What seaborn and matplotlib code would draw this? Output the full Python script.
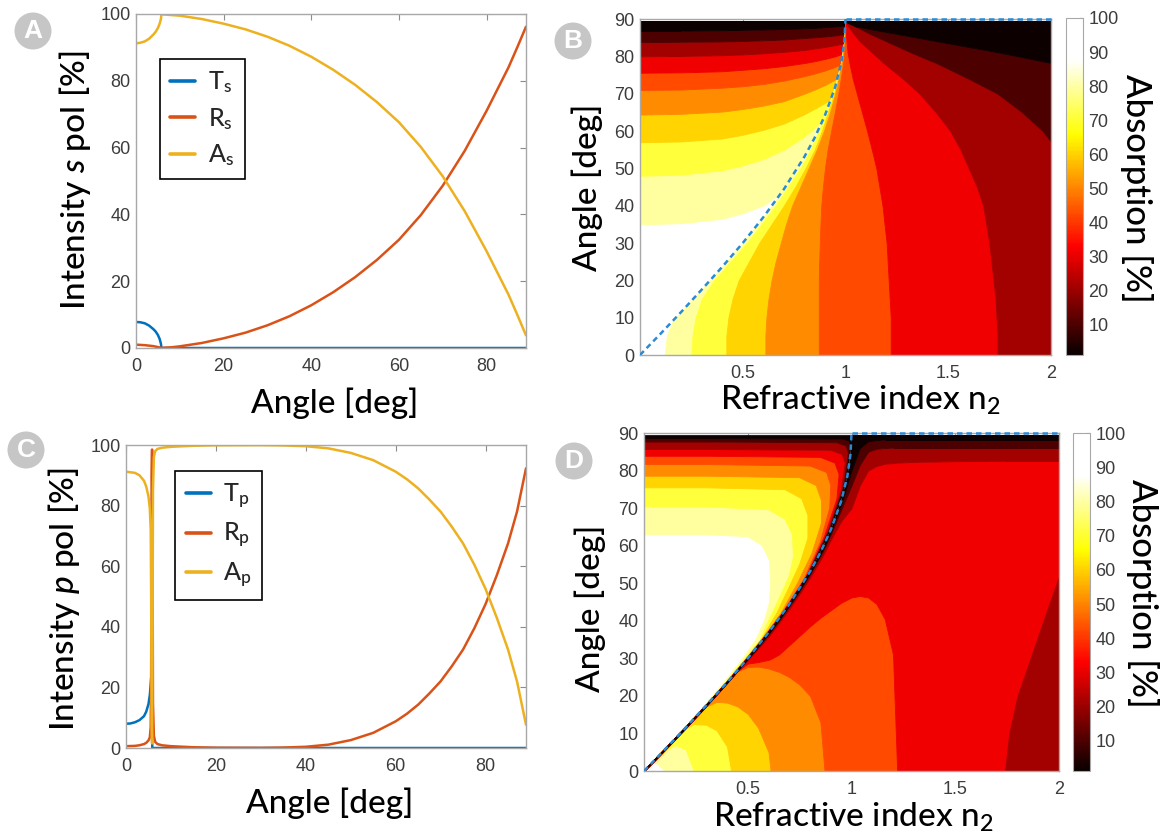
import numpy as np
import pandas as pd
import matplotlib
matplotlib.use("Agg")
import matplotlib.pyplot as plt
import seaborn as sns
from matplotlib.patches import Polygon, Ellipse
from matplotlib.lines import Line2D
from matplotlib.colors import ListedColormap, Normalize
from matplotlib.cm import ScalarMappable

# ---------------- panel A : s polarisation ----------------
ang_Ts = [0, 1, 2, 3, 4, 4.5, 5, 5.4, 5.7, 5.8, 89]
Ts = [7.8, 7.7, 7.4, 6.7, 5.6, 4.9, 3.9, 2.7, 1.2, 0, 0]
ang_Rs = [0, 2, 4, 5.8, 8, 10, 15, 20, 25, 30, 35, 40, 45, 50, 55, 60, 65, 70, 75,
          80, 85, 87, 89]
Rs = [1.0, 0.85, 0.55, 0.05, 0.2, 0.5, 1.5, 2.9, 4.6, 6.8, 9.5, 12.8, 16.7, 21.2,
      26.4, 32.4, 39.8, 48.6, 59.0, 71.0, 84.0, 90.0, 96.2]
ang_As = [0, 1, 2, 3, 4, 4.5, 5, 5.4, 5.7, 5.8, 10, 15, 20, 25, 30, 35, 40, 45, 50,
          55, 60, 65, 70, 75, 80, 85, 87, 89]
As = [91.2, 91.4, 91.8, 92.6, 93.9, 94.7, 95.8, 97.1, 98.6, 99.9, 99.5, 98.5, 97.1,
      95.4, 93.2, 90.5, 87.2, 83.3, 78.8, 73.6, 67.6, 60.2, 51.4, 41.0, 29.0, 16.0,
      10.0, 3.8]

# ---------------- panel C : p polarisation ----------------
ang_Tp = [0, 1, 2, 3, 4, 4.5, 5, 5.3, 5.5, 5.65, 5.75, 5.85, 89]
Tp = [8.0, 8.1, 8.5, 9.2, 10.5, 12, 14.5, 17.5, 21, 24, 8, 0, 0]
ang_Rp = [0, 2, 3, 4, 4.5, 5, 5.3, 5.5, 5.6, 5.7, 5.8, 5.9, 6.0, 6.2, 6.5, 7, 8, 10,
          15, 20, 30, 35, 40, 45, 50, 55, 60, 62.5, 65, 67.5, 70, 72.5, 75, 77.5, 80,
          82.5, 85, 87, 89]
Rp = [0.6, 0.7, 0.9, 1.3, 1.7, 2.5, 3.5, 7, 25, 90, 98.5, 70, 15, 4, 2, 1.3, 0.9, 0.6,
      0.25, 0.1, 0.05, 0.15, 0.4, 1.1, 2.6, 5.0, 8.8, 11.3, 14.3, 18.0, 22.0, 27.0,
      32.5, 39.5, 47.5, 57.0, 67.5, 78.0, 92.3]
ang_Ap = [0, 2, 3, 4, 4.5, 5, 5.3, 5.5, 5.6, 5.7, 5.8, 5.9, 6.0, 6.2, 6.5, 7, 8, 10,
          15, 20, 30, 35, 40, 45, 50, 55, 60, 62.5, 65, 67.5, 70, 72.5, 75, 77.5, 80,
          82.5, 85, 87, 89]
Ap = [91.2, 90.8, 90.0, 88.2, 86.3, 83, 79, 72, 50, 8, 1.5, 30, 85, 96, 98, 98.7, 99.1,
      99.4, 99.75, 99.9, 99.95, 99.85, 99.6, 98.9, 97.4, 95.0, 91.2, 88.7, 85.7, 82.0,
      78.0, 73.0, 67.5, 60.5, 52.5, 43.0, 32.5, 22.0, 7.7]

# ---------------- critical angle (dashed line) ----------------
crit_n2 = [0, 0.1, 0.2, 0.3, 0.4, 0.5, 0.6, 0.7, 0.8, 0.85, 0.9, 0.95, 0.98, 0.995, 1.0]
crit_ang = [0, 5.7, 11.5, 17.5, 23.6, 30.0, 36.9, 44.4, 53.1, 58.2, 64.2, 71.8, 78.5, 84.3, 90]

levels = [90, 80, 70, 60, 50, 40, 30, 20, 10, 0]
band_colors = ['#0c0000', '#4d0000', '#a30000', '#f00000', '#ff4a00',
               '#ff8c00', '#ffd400', '#ffff3c', '#ffffa0', '#ffffff']

# ---------------- panel B : absorption contours, s pol ----------------
# above the critical angle: angle where each level is crossed, per n2 column
B_tir_n2 = [0, 0.2, 0.4, 0.5, 0.6, 0.7, 0.8, 0.85, 0.9, 0.95, 1.0]
B_tir_ang = [
    [35.0, 35.3, 36.5, 38.0, 40.0, 44.0, 50.0, 53.0, 56.0, 60.0, 64.0],
    [48.0, 48.3, 49.5, 50.8, 52.5, 55.0, 58.5, 61.0, 63.5, 66.0, 69.0],
    [57.0, 57.2, 58.0, 59.0, 60.3, 62.0, 64.5, 66.0, 67.5, 69.5, 72.0],
    [64.4, 64.6, 65.2, 65.9, 66.8, 68.0, 70.0, 71.1, 72.3, 73.8, 76.0],
    [71.0, 71.1, 71.6, 72.0, 72.6, 73.5, 74.7, 75.4, 76.2, 77.2, 78.5],
    [75.6, 75.7, 76.0, 76.4, 76.8, 77.4, 78.2, 78.7, 79.3, 80.0, 81.0],
    [80.0, 80.1, 80.3, 80.5, 80.8, 81.2, 81.7, 82.1, 82.5, 83.0, 83.6],
    [83.8, 83.9, 84.0, 84.1, 84.3, 84.5, 84.9, 85.1, 85.3, 85.6, 86.0],
    [86.9, 86.9, 87.0, 87.1, 87.2, 87.3, 87.5, 87.6, 87.8, 88.0, 88.3],
    [89.3, 89.3, 89.3, 89.3, 89.3, 89.3, 89.3, 89.3, 89.3, 89.3, 89.3],
]
# below the critical angle: n2 where each level is crossed, per angle row
B_tr_ang = [0, 5, 10, 15, 20, 25, 30, 35, 40, 45, 50, 55, 60, 65, 70, 74, 78, 81, 84,
            86, 88, 89.3]
B_tr_n2 = [
    [0.12, 0.13, 0.165, 0.22, 0.30, 0.38, 0.45, 0.53, 0.60, 0.66, 0.72, 0.77, 0.82,
     0.86, 0.90, 0.93, 0.95, 0.965, 0.98, 0.985, 0.99, 0.995],
    [0.25, 0.255, 0.27, 0.30, 0.36, 0.44, 0.52, 0.59, 0.66, 0.72, 0.78, 0.83, 0.87,
     0.905, 0.94, 0.96, 0.975, 0.985, 0.99, 0.993, 0.996, 0.998],
    [0.42, 0.42, 0.43, 0.45, 0.48, 0.53, 0.58, 0.64, 0.70, 0.755, 0.805, 0.85, 0.885,
     0.915, 0.945, 0.963, 0.978, 0.987, 0.992, 0.995, 0.997, 0.999],
    [0.61, 0.61, 0.615, 0.625, 0.64, 0.66, 0.685, 0.71, 0.74, 0.78, 0.82, 0.86, 0.895,
     0.925, 0.95, 0.967, 0.981, 0.989, 0.994, 0.996, 0.998, 1.0],
    [0.87, 0.87, 0.87, 0.87, 0.87, 0.872, 0.875, 0.878, 0.882, 0.89, 0.90, 0.913,
     0.93, 0.948, 0.965, 0.977, 0.988, 0.994, 0.998, 1.0, 1.0, 1.0],
    [1.22, 1.22, 1.22, 1.215, 1.21, 1.205, 1.20, 1.19, 1.18, 1.165, 1.15, 1.128, 1.105,
     1.08, 1.055, 1.035, 1.02, 1.01, 1.005, 1.002, 1.0, 1.0],
    [1.74, 1.74, 1.735, 1.73, 1.72, 1.71, 1.70, 1.685, 1.67, 1.64, 1.60, 1.56, 1.51,
     1.44, 1.36, 1.28, 1.19, 1.13, 1.07, 1.04, 1.015, 1.0],
    [2.40, 2.39, 2.37, 2.34, 2.30, 2.25, 2.21, 2.17, 2.14, 2.11, 2.08, 2.03, 1.96, 1.86,
     1.74, 1.60, 1.45, 1.32, 1.20, 1.12, 1.05, 1.01],
    [4.0, 4.0, 4.0, 4.0, 4.0, 3.9, 3.8, 3.65, 3.5, 3.35, 3.2, 3.0, 2.8, 2.6, 2.4, 2.2,
     2.02, 1.75, 1.45, 1.25, 1.05, 1.0],
    [5.0] * 22,
]

# ---------------- panel D : absorption contours, p pol ----------------
# above the critical angle: each level line from the left edge round to the origin
D_tir_x = [
    [0, 0.30, 0.50, 0.57, 0.605, 0.61, 0.605, 0.58, 0.54, 0.47, 0.39, 0.295, 0.197, 0.097, 0],
    [0, 0.3, 0.6, 0.68, 0.715, 0.72, 0.7, 0.66, 0.6, 0.56, 0.48, 0.40, 0.299, 0.199, 0.098, 0],
    [0, 0.3, 0.68, 0.76, 0.79, 0.79, 0.75, 0.70, 0.64, 0.565, 0.485, 0.403, 0.3, 0.2, 0.098, 0],
    [0, 0.3, 0.75, 0.83, 0.855, 0.855, 0.81, 0.74, 0.66, 0.568, 0.488, 0.404, 0.3, 0.2, 0.098, 0],
    [0, 0.3, 0.8, 0.88, 0.9, 0.895, 0.85, 0.77, 0.665, 0.57, 0.489, 0.405, 0.301, 0.2, 0.099, 0],
    [0, 0.3, 0.85, 0.92, 0.94, 0.93, 0.87, 0.78, 0.668, 0.571, 0.49, 0.405, 0.301, 0.2, 0.099, 0],
    [0, 0.3, 0.9, 0.955, 0.97, 0.95, 0.885, 0.79, 0.67, 0.572, 0.491, 0.406, 0.302, 0.201, 0.099, 0],
    [0, 0.3, 0.93, 0.975, 0.985, 0.962, 0.892, 0.793, 0.671, 0.573, 0.4915, 0.4065, 0.302, 0.201, 0.099, 0],
    [0, 0.3, 0.96, 0.99, 0.995, 0.97, 0.898, 0.796, 0.672, 0.5735, 0.492, 0.407, 0.3022, 0.2012, 0.0992, 0],
    [0, 0.3, 1.0, 1.05, 1.05, 1.0, 0.95, 0.85, 0.72, 0.62, 0.53, 0.44, 0.33, 0.22, 0.11, 0],
]
D_tir_ang = [
    [62.9, 62.9, 62.4, 60, 56, 50, 45, 40, 35, 29.5, 24, 17.6, 11.6, 5.7, 0],
    [70.3, 70.3, 69.6, 67, 63, 57, 52, 47, 40, 35, 29.5, 24, 17.6, 11.6, 5.7, 0],
    [75.4, 75.4, 74.9, 72.5, 68, 62, 55, 49, 42, 35, 29.5, 24, 17.6, 11.6, 5.7, 0],
    [78.5, 78.5, 78.1, 76, 72, 66, 58, 50, 42, 35, 29.5, 24, 17.6, 11.6, 5.7, 0],
    [81.6, 81.6, 81.2, 79.5, 76, 70, 61, 51, 42, 35, 29.5, 24, 17.6, 11.6, 5.7, 0],
    [83.8, 83.8, 83.5, 82, 79, 72.5, 62.5, 51.5, 42, 35, 29.5, 24, 17.6, 11.6, 5.7, 0],
    [85.6, 85.6, 85.4, 84.3, 82, 74.5, 63.5, 52.2, 42, 35, 29.5, 24, 17.6, 11.6, 5.7, 0],
    [87.6, 87.6, 87.4, 86.5, 84.5, 75.5, 64, 52.5, 42, 35, 29.5, 24, 17.6, 11.6, 5.7, 0],
    [88.5, 88.5, 88.4, 87.8, 86, 76.5, 64.5, 52.8, 42, 35, 29.5, 24, 17.6, 11.6, 5.7, 0],
    [89.3, 89.3, 89.3, 89.3, 86, 77, 65, 53, 42, 35, 29.5, 24, 17.6, 11.6, 5.7, 0],
]
# below the critical angle: angle where each level is crossed, per n2 column
D_tr_n2 = [0, 0.05, 0.1, 0.15, 0.2, 0.24, 0.3, 0.35, 0.4, 0.42, 0.45, 0.5, 0.55, 0.6,
           0.61, 0.65, 0.7, 0.75, 0.8, 0.85, 0.87, 0.9, 0.95, 1.0, 1.04, 1.08, 1.12,
           1.16, 1.2, 1.22, 1.3, 1.5, 1.74, 2.0]
D_tr_ang = [
    # 90
    [0, 2.47, 0, -5, -5, -5, -5, -5, -5, -5, -5, -5, -5, -5, -5, -5, -5, -5, -5, -5,
     -5, -5, -5, -5, -5, -5, -5, -5, -5, -5, -5, -5, -5, -5],
    # 80
    [0, 2.52, 5.39, 6.9, 5.8, 0, -5, -5, -5, -5, -5, -5, -5, -5, -5, -5, -5, -5, -5,
     -5, -5, -5, -5, -5, -5, -5, -5, -5, -5, -5, -5, -5, -5, -5],
    # 70
    [0, 2.57, 5.44, 8.33, 11.24, 12.5, 12.3, 10.8, 6.5, 0, -5, -5, -5, -5, -5, -5, -5,
     -5, -5, -5, -5, -5, -5, -5, -5, -5, -5, -5, -5, -5, -5, -5, -5, -5],
    # 60
    [0, 2.62, 5.49, 8.38, 11.29, 13.64, 17.2, 18.4, 18.2, 17.8, 17.2, 15.2, 11.5, 5.0,
     0, -5, -5, -5, -5, -5, -5, -5, -5, -5, -5, -5, -5, -5, -5, -5, -5, -5, -5, -5],
    # 50
    [0, 2.67, 5.54, 8.43, 11.34, 13.69, 17.26, 20.29, 23.38, 24.63, 26.5, 27.7, 27.8,
     27.3, 27.1, 26.4, 25.0, 23.0, 20.0, 13.0, 0, -5, -5, -5, -5, -5, -5, -5, -5, -5,
     -5, -5, -5, -5],
    # 40
    [0, 2.72, 5.59, 8.48, 11.39, 13.74, 17.31, 20.34, 23.43, 24.68, 26.58, 28.6, 29.0,
     29.6, 29.8, 31.0, 33.5, 36.0, 38.5, 40.8, 41.6, 42.8, 44.8, 46.2, 46.6, 46.2, 44.5,
     40.5, 31.0, 0, -5, -5, -5, -5],
    # 30
    [0, 2.77, 5.64, 8.53, 11.44, 13.79, 17.36, 20.39, 23.48, 24.73, 26.64, 29.6, 32.6,
     35.8, 36.5, 39.4, 43.2, 47.2, 51.5, 56.2, 58.2, 61.5, 66.5, 70.0, 76.0, 80.0, 81.2,
     81.8, 82.0, 82.1, 82.3, 82.5, 82.6, 82.6],
    # 20
    [0, 2.81, 5.68, 8.57, 11.48, 13.83, 17.40, 20.43, 23.52, 24.77, 26.68, 29.8, 33.0,
     36.4, 37.1, 40.0, 43.9, 48.0, 52.4, 57.3, 59.4, 63.0, 69.5, 76.0, 81.5, 85.0, 85.8,
     86.0, 86.1, 86.1, 86.1, 86.1, 86.1, 86.1],
    # 10
    [0, 2.84, 5.71, 8.60, 11.51, 13.86, 17.43, 20.46, 23.55, 24.80, 26.71, 29.9, 33.2,
     36.7, 37.4, 40.3, 44.2, 48.35, 52.8, 57.8, 60.0, 63.7, 71.0, 80.0, 86.0, 87.8, 88.1,
     88.3, 88.3, 88.3, 88.3, 88.3, 88.3, 88.3],
    # 0
    [0.5, 3.37, 6.24, 9.13, 12.04, 14.39, 17.96, 20.99, 24.08, 25.33, 27.24, 30.5, 33.9,
     37.4, 38.1, 41.0, 44.9, 49.1, 53.6, 58.7, 61.0, 64.7, 72.3, 89.3, 89.3, 89.3, 89.3,
     89.3, 89.3, 89.3, 89.3, 89.3, 89.3, 89.3],
]
# dark lobe in the lower right corner of D (20-30 %)
D_lobe_n2 = [1.74, 1.76, 1.8, 1.85, 1.9, 1.95, 2.0]
D_lobe_ang = [0, 10, 20, 28, 36, 44, 51.8]

# ---------------- style ----------------
sns.set_style("white")
plt.rcParams.update({
    "font.family": ["Lato", "DejaVu Sans"],
    "mathtext.fontset": "custom",
    "mathtext.rm": "Lato:medium",
    "mathtext.it": "Lato:italic:medium",
    "mathtext.bf": "Lato:bold",
})

W, H = 1165, 838
fig = plt.figure(figsize=(W / 100, H / 100), dpi=100)


def px_axes(l, t, r, b):
    return fig.add_axes([l / W, 1 - b / H, (r - l) / W, (b - t) / H])


def style(ax):
    for s in ax.spines.values():
        s.set_color('#a8a8a8')
        s.set_linewidth(1)
    ax.tick_params(direction='in', top=True, right=True, length=4, width=0.8,
                   color='#8c8c8c', labelcolor='#3c3c3c', labelsize=13,
                   labelfontfamily='Liberation Sans')
    ax.tick_params(axis='x', pad=7)
    ax.tick_params(axis='y', pad=4)


def label(x, y, s, rot=0, size=24):
    fig.text(x / W, 1 - y / H, s, rotation=rot, ha='center', va='center',
             fontsize=size, color='black', fontweight='medium')


def badge(x, y, letter):
    fig.add_artist(Ellipse((x / W, 1 - y / H), 37 / W, 37 / H, transform=fig.transFigure,
                           fc='#c6c6c6', ec='none'))
    fig.text(x / W, 1 - y / H, letter, color='white', fontsize=19, fontweight='bold',
             ha='center', va='center', family='Liberation Sans')


blue, red, yellow = '#0072BD', '#D95319', '#EDB120'


def line_panel(ax, series, names, leg_xy):
    df = pd.concat([pd.DataFrame({'angle': a, 'value': v, 'curve': n})
                    for (a, v), n in zip(series, names)])
    sns.lineplot(data=df, x='angle', y='value', hue='curve', hue_order=names,
                 palette=[blue, red, yellow], estimator=None, sort=False,
                 linewidth=1.8, legend=False, ax=ax)
    ax.set_xlim(0, 89)
    ax.set_ylim(0, 100)
    ax.set_xticks([0, 20, 40, 60, 80])
    ax.set_yticks([0, 20, 40, 60, 80, 100])
    ax.set_xlabel('')
    ax.set_ylabel('')
    style(ax)
    handles = [Line2D([], [], color=c, lw=2.6) for c in (blue, red, yellow)]
    leg = ax.legend(handles, names, loc='upper left', bbox_to_anchor=leg_xy,
                    frameon=True, fancybox=False, edgecolor='black', framealpha=1,
                    fontsize=18, handlelength=1.0, handletextpad=0.5,
                    labelspacing=0.42, borderpad=0.42, borderaxespad=0,
                    prop={'size': 18, 'weight': 'medium'})
    leg.get_frame().set_linewidth(1.2)


def clip_polys(ax):
    pts = list(zip(crit_n2, crit_ang))
    tir = Polygon(pts + [(0, 90)], closed=True, transform=ax.transData)
    tr = Polygon(pts + [(2, 90), (2, 0)], closed=True, transform=ax.transData)
    return tir, tr


def fill_levels(ax, base, rows, clip, vertical=False):
    for i in range(len(levels) - 1):
        c = band_colors[levels[i + 1] // 10]
        if vertical:
            art = ax.fill_betweenx(base, rows[i], rows[i + 1], color=c, lw=0.6, ec=c)
        else:
            art = ax.fill_between(base, rows[i], rows[i + 1], color=c, lw=0.6, ec=c)
        art.set_clip_path(clip)


def fill_paths(ax, xs, ys, clip):
    for i in range(len(levels) - 1):
        c = band_colors[levels[i + 1] // 10]
        px = list(xs[i]) + list(xs[i + 1])[::-1]
        py = list(ys[i]) + list(ys[i + 1])[::-1]
        art = ax.fill(px, py, color=c, lw=0.6, ec=c)[0]
        art.set_clip_path(clip)


cb_vals = np.linspace(1.2, 100, 256)
cb_cmap = ListedColormap(plt.get_cmap('hot')(np.clip((cb_vals - 1.2) / 86.8, 0, 1)))


def map_panel(ax, cax):
    ax.plot(crit_n2, crit_ang, color='#2b8ad6', lw=1.8, ls=(0, (2.2, 1.6)), zorder=5)
    ax.plot([1, 2], [90, 90], color='#2b8ad6', lw=1.8, ls=(0, (2.2, 1.6)), zorder=5,
            clip_on=False)
    ax.set_xlim(0, 2)
    ax.set_ylim(0, 90)
    ax.set_xticks([0.5, 1, 1.5, 2])
    ax.set_xticklabels(['0.5', '1', '1.5', '2'])
    ax.set_yticks(range(0, 91, 10))
    style(ax)
    sm = ScalarMappable(norm=Normalize(1.2, 100), cmap=cb_cmap)
    cb = fig.colorbar(sm, cax=cax, ticks=range(10, 101, 10))
    cb.outline.set_edgecolor('#a8a8a8')
    cax.tick_params(direction='in', length=3, color='#8c8c8c', labelcolor='#3c3c3c',
                    labelsize=13, labelfontfamily='Liberation Sans', pad=4)


# ---------------- A ----------------
axA = px_axes(136, 14, 526, 348)
line_panel(axA, [(ang_Ts, Ts), (ang_Rs, Rs), (ang_As, As)],
           ['T$_{\\mathrm{s}}$', 'R$_{\\mathrm{s}}$', 'A$_{\\mathrm{s}}$'], (0.0615, 0.865))
label(75, 180, 'Intensity $\\mathit{s}$ pol [%]', rot=90)
label(335, 403, 'Angle [deg]')

# ---------------- C ----------------
axC = px_axes(126, 445, 526, 748)
line_panel(axC, [(ang_Tp, Tp), (ang_Rp, Rp), (ang_Ap, Ap)],
           ['T$_{\\mathrm{p}}$', 'R$_{\\mathrm{p}}$', 'A$_{\\mathrm{p}}$'], (0.1225, 0.914))
label(64, 599, 'Intensity $\\mathit{p}$ pol [%]', rot=90)
label(330, 803, 'Angle [deg]')

# ---------------- B ----------------
axB = px_axes(640, 19, 1051, 355)
caxB = px_axes(1066, 18, 1083, 355)
tirB, trB = clip_polys(axB)
fill_levels(axB, B_tir_n2, B_tir_ang, tirB)
fill_levels(axB, B_tr_ang, B_tr_n2, trB, vertical=True)
map_panel(axB, caxB)
label(587, 187, 'Angle [deg]', rot=90)
label(860, 400, 'Refractive index n$_{2}$')
label(1136, 188, 'Absorption [%]', rot=270, size=25)

# ---------------- D ----------------
axD = px_axes(644, 433, 1059, 771)
caxD = px_axes(1073, 433, 1090, 771)
tirD, trD = clip_polys(axD)
fill_paths(axD, D_tir_x, D_tir_ang, tirD)
fill_levels(axD, D_tr_n2, D_tr_ang, trD)
lobe = axD.fill_between(D_lobe_n2, 0, D_lobe_ang, color=band_colors[2], lw=0.6, ec=band_colors[2])
lobe.set_clip_path(trD)
map_panel(axD, caxD)
label(590, 608, 'Angle [deg]', rot=90)
label(853, 817, 'Refractive index n$_{2}$')
label(1142, 593, 'Absorption [%]', rot=270, size=25)

badge(33, 31, 'A')
badge(573, 41, 'B')
badge(26, 450, 'C')
badge(574, 461, 'D')

fig.savefig('out.png', dpi=100)
